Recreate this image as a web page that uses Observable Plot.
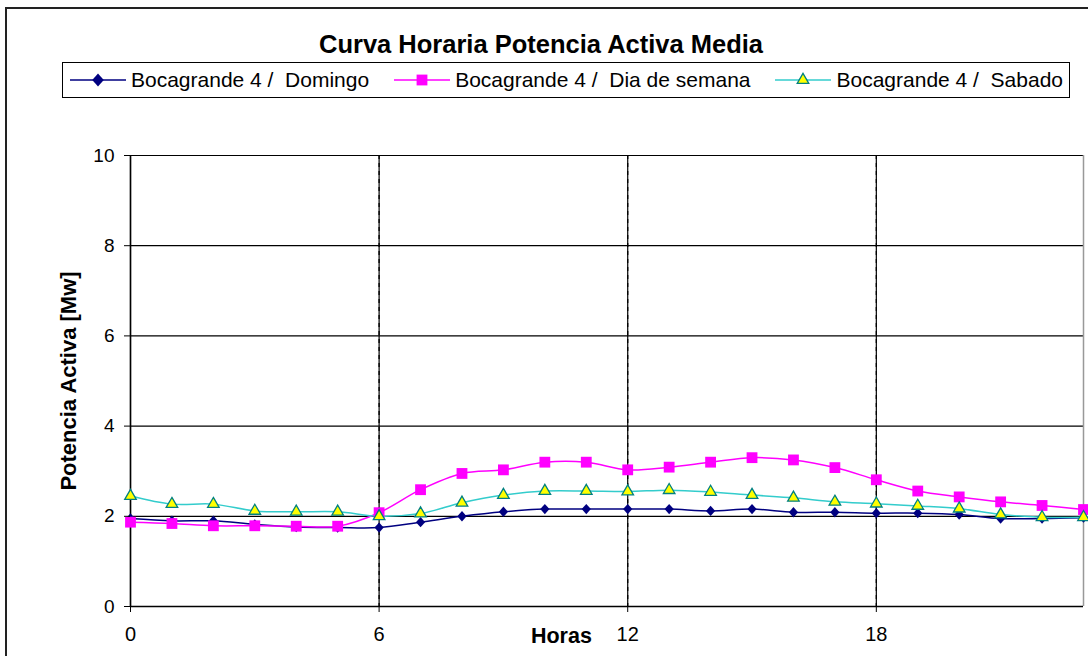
<!DOCTYPE html>
<html>
<head>
<meta charset="utf-8">
<script src="https://cdn.jsdelivr.net/npm/d3@7"></script>
<script src="https://cdn.jsdelivr.net/npm/@observablehq/plot@0.6"></script>
<style>
  html, body { margin: 0; padding: 0; background: #fff; width: 1088px; height: 656px; overflow: hidden; font-family: "Liberation Sans", Arial, sans-serif; }
  #frame { position: absolute; left: 5px; top: 7px; width: 1200px; height: 800px; border: 2px solid #222; box-sizing: border-box; }
  #title { position: absolute; left: 0; width: 1082px; top: 29px; text-align: center; font-weight: bold; font-size: 25.5px; line-height: 30px; color: #000; }
  #legend { position: absolute; left: 62px; top: 62px; width: 1008px; height: 36px; border: 1.5px solid #000; box-sizing: border-box; display: flex; align-items: center; justify-content: space-between; padding: 0 6px 0 7px; }
  .item { display: flex; align-items: center; font-size: 21px; color: #000; white-space: pre; }
  .item svg { margin-right: 5px; }
  #chart { position: absolute; left: 0; top: 110px; }
</style>
</head>
<body>
<div id="frame"></div>
<div id="title">Curva Horaria Potencia Activa Media</div>
<div id="legend"></div>
<div id="chart"></div>
<script>
// ---- data ----
const hours = [0,1,2,3,4,5,6,7,8,9,10,11,12,13,14,15,16,17,18,19,20,21,22,23];
const domingo = [1.95,1.9,1.9,1.82,1.76,1.75,1.75,1.87,2.0,2.1,2.16,2.16,2.16,2.16,2.12,2.16,2.09,2.09,2.07,2.07,2.04,1.95,1.95,1.97];
const semana  = [1.87,1.84,1.79,1.79,1.78,1.78,2.08,2.59,2.95,3.03,3.2,3.2,3.03,3.09,3.2,3.3,3.25,3.08,2.81,2.56,2.43,2.32,2.24,2.15];
const sabado  = [2.45,2.27,2.27,2.12,2.1,2.1,2.0,2.06,2.3,2.47,2.56,2.56,2.55,2.58,2.54,2.47,2.41,2.32,2.28,2.23,2.17,2.04,1.98,1.98];
const seriesNames = ["Bocagrande 4 /  Domingo", "Bocagrande 4 /  Dia de semana", "Bocagrande 4 /  Sabado"];
const xTicks = [0, 6, 12, 18];
const yTicks = [0, 2, 4, 6, 8, 10];
const vGrid = [6, 12, 18];

// ---- custom wide diamond symbol ----
const wideDiamond = {
  draw(ctx, size) {
    const r = Math.sqrt(size / Math.PI);
    ctx.moveTo(0, -r * 1.3);
    ctx.lineTo(r * 1.15, 0);
    ctx.lineTo(0, r * 1.3);
    ctx.lineTo(-r * 1.15, 0);
    ctx.closePath();
  }
};

// ---- styles ----
const styles = [
  {values: domingo, stroke: "#000080", fill: "#000080", mstroke: "#000080", symbol: wideDiamond, r: 4, lr: 5},
  {values: semana,  stroke: "#FF00FF", fill: "#FF00FF", mstroke: "#FF00FF", symbol: d3.symbolSquare, r: 6.1, lr: 6.1},
  {values: sabado,  stroke: "#33CCCC", fill: "#FFFF00", mstroke: "#008080", symbol: d3.symbolTriangle, r: 4.3, lr: 4.3}
];

const rows = styles.map((s, i) => hours.map((h, j) => ({hour: h, value: s.values[j], series: seriesNames[i]})));

const marks = [
  Plot.gridY(yTicks.filter(d => d > 0), {stroke: "#000", strokeOpacity: 1, strokeWidth: 1.2}),
  Plot.ruleX(vGrid, {stroke: "#000", strokeWidth: 1.3, strokeDasharray: "4,4"}),
  Plot.ruleX([23], {stroke: "#999", strokeWidth: 1.5}),
  Plot.ruleX([0], {stroke: "#000", strokeWidth: 1.5}),
  Plot.ruleY([0], {stroke: "#000", strokeWidth: 1.5}),
  Plot.tickX(xTicks, {x: d => d, y1: 0, y2: 0.08, stroke: "#000", strokeWidth: 1.2}),
];
styles.forEach((s, i) => {
  marks.push(Plot.line(rows[i], {x: "hour", y: "value", stroke: s.stroke, strokeWidth: 1.5, curve: "catmull-rom"}));
});
styles.forEach((s, i) => {
  marks.push(Plot.dot(rows[i], {x: "hour", y: "value", symbol: s.symbol, r: s.r, fill: s.fill, stroke: s.mstroke, strokeWidth: s.symbol === d3.symbolTriangle ? 1.3 : 0}));
});

const chart = Plot.plot({
  width: 1088,
  height: 546,
  marginLeft: 130,
  marginRight: 5,
  marginTop: 45,
  marginBottom: 50,
  style: {fontFamily: "'Liberation Sans', Arial, sans-serif", fontSize: "19px", color: "#000", background: "transparent"},
  x: {domain: [0, 23]},
  y: {domain: [0, 10]},
  marks: [
    ...marks,
    Plot.axisX({ticks: xTicks, tickSize: 6, tickPadding: 14, label: null, fontSize: 20}),
    Plot.axisY({ticks: yTicks, tickSize: 6, tickPadding: 10, label: null, fontSize: 19}),
    Plot.text(["Horas"], {x: 10.4, y: 0, dy: 30, text: d => d, fontWeight: "bold", fontSize: 21.5}),
    Plot.text(["Potencia Activa [Mw]"], {x: 0, y: 5, dx: -62, text: d => d, fontWeight: "bold", fontSize: 22, rotate: -90})
  ]
});
document.getElementById("chart").appendChild(chart);

// ---- legend ----
const legend = document.getElementById("legend");
styles.forEach((s, i) => {
  const item = document.createElement("div");
  item.className = "item";
  const w = 56, h = 22;
  const sv = d3.create("svg").attr("width", w).attr("height", h);
  sv.append("line").attr("x1", 0).attr("x2", w).attr("y1", h/2).attr("y2", h/2).attr("stroke", s.stroke).attr("stroke-width", 1.5);
  sv.append("path").attr("d", d3.symbol(s.symbol, Math.PI * s.lr * s.lr)()).attr("transform", `translate(${w/2},${h/2})`)
    .attr("fill", s.fill).attr("stroke", s.mstroke).attr("stroke-width", s.symbol === d3.symbolTriangle ? 1.3 : 0);
  item.appendChild(sv.node());
  const t = document.createElement("span");
  t.textContent = seriesNames[i];
  item.appendChild(t);
  legend.appendChild(item);
});
</script>
</body>
</html>
